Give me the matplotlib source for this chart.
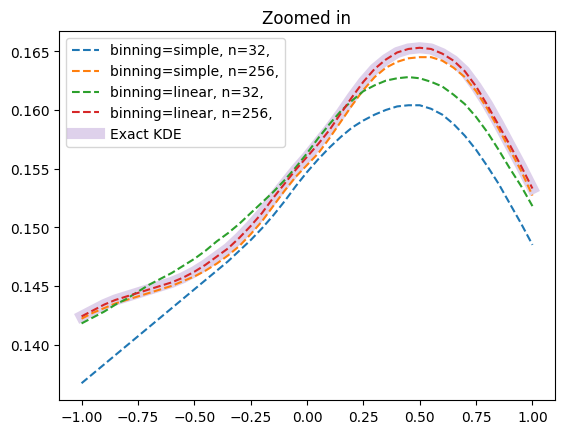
import numpy as np
from matplotlib import pyplot as plt

# x grid shared by every curve (step 0.05)
x = np.linspace(-1, 1, 41)

# values
simple_32 = [0.1367, 0.1375, 0.1383, 0.1391, 0.1399, 0.1407, 0.1415, 0.1423, 0.1431, 0.1439,
             0.1447, 0.1455, 0.1463, 0.1471, 0.1480, 0.1489, 0.1499, 0.1510, 0.1522, 0.1535,
             0.1547, 0.1558, 0.1568, 0.1577, 0.1585, 0.1591, 0.1596, 0.1600, 0.1603, 0.1604,
             0.1604, 0.1601, 0.1596, 0.1588, 0.1578, 0.1566, 0.1552, 0.1537, 0.1520, 0.1503,
             0.1485]
simple_256 = [0.1422, 0.1427, 0.1431, 0.1435, 0.1438, 0.1441, 0.1444, 0.1447, 0.1450, 0.1454,
              0.1458, 0.1463, 0.1469, 0.1476, 0.1484, 0.1494, 0.1505, 0.1518, 0.1531, 0.1543,
              0.1553, 0.1563, 0.1576, 0.1590, 0.1604, 0.1617, 0.1628, 0.1636, 0.1641, 0.1644,
              0.1645, 0.1645, 0.1642, 0.1636, 0.1628, 0.1616, 0.1601, 0.1584, 0.1566, 0.1548,
              0.1527]
linear_32 = [0.1418, 0.1423, 0.1428, 0.1434, 0.1439, 0.1445, 0.1451, 0.1456, 0.1461, 0.1467,
             0.1473, 0.1480, 0.1488, 0.1495, 0.1503, 0.1512, 0.1521, 0.1530, 0.1540, 0.1551,
             0.1563, 0.1576, 0.1588, 0.1599, 0.1608, 0.1616, 0.1621, 0.1625, 0.1627, 0.1628,
             0.1627, 0.1624, 0.1620, 0.1613, 0.1605, 0.1594, 0.1581, 0.1566, 0.1550, 0.1535,
             0.1518]
linear_256 = [0.1424, 0.1429, 0.1434, 0.1438, 0.1441, 0.1444, 0.1447, 0.1450, 0.1453, 0.1457,
              0.1462, 0.1468, 0.1475, 0.1482, 0.1491, 0.1501, 0.1512, 0.1525, 0.1537, 0.1549,
              0.1560, 0.1571, 0.1583, 0.1597, 0.1611, 0.1624, 0.1635, 0.1643, 0.1649, 0.1652,
              0.1653, 0.1652, 0.1648, 0.1642, 0.1633, 0.1620, 0.1604, 0.1587, 0.1570, 0.1552,
              0.1533]
exact_kde = [0.1424, 0.1429, 0.1434, 0.1438, 0.1441, 0.1444, 0.1447, 0.1450, 0.1453, 0.1457,
             0.1462, 0.1468, 0.1475, 0.1482, 0.1491, 0.1501, 0.1512, 0.1525, 0.1537, 0.1549,
             0.1560, 0.1572, 0.1584, 0.1597, 0.1611, 0.1624, 0.1635, 0.1643, 0.1649, 0.1652,
             0.1653, 0.1652, 0.1648, 0.1642, 0.1633, 0.1620, 0.1605, 0.1588, 0.1570, 0.1552,
             0.1533]

series = {
    "binning=simple, n=32,": simple_32,
    "binning=simple, n=256,": simple_256,
    "binning=linear, n=32,": linear_32,
    "binning=linear, n=256,": linear_256,
}

fig = plt.figure(figsize=(5.65, 4.35), dpi=100)
ax = fig.add_axes([59 / 565, 1 - 401 / 435, 496 / 565, 369 / 435])

ax.plot(x, exact_kde, color="tab:purple", alpha=0.3, lw=8, label="Exact KDE", zorder=1)
for i, (name, vals) in enumerate(series.items()):
    ax.plot(x, vals, ls="--", color="C%d" % i, label=name, zorder=2)

# legend order: dashed lines first, then the exact curve
h, l = ax.get_legend_handles_labels()
ax.legend(h[1:] + h[:1], l[1:] + l[:1], loc="upper left")
ax.set_title("Zoomed in")

fig.savefig("out.png")
